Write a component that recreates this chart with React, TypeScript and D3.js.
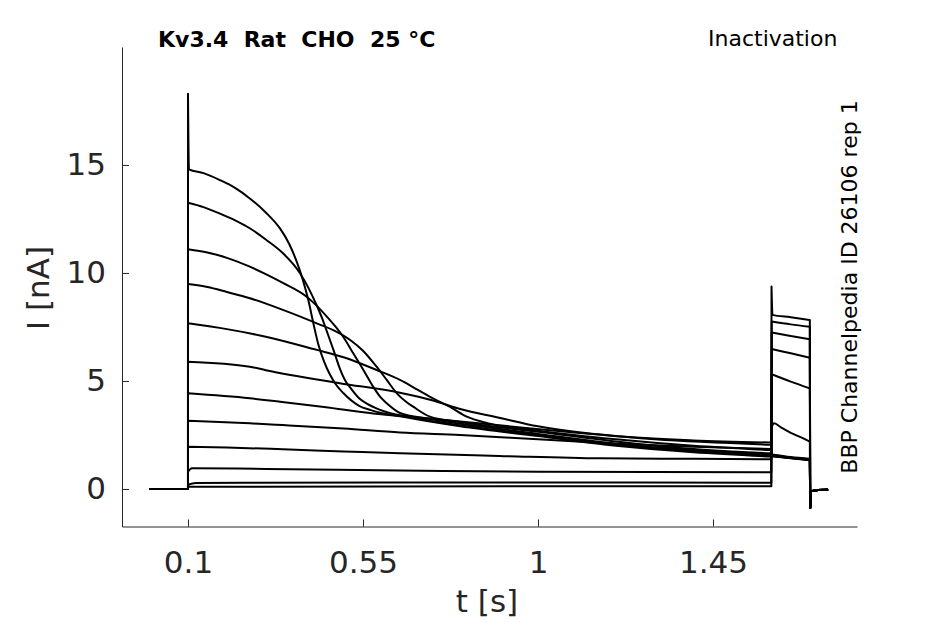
import { useRef, useEffect } from 'react';
import * as d3 from 'd3';

type Pt = [number, number];

// time [s], current [nA]
const T_TICKS = [0.1, 0.55, 1, 1.45];
const I_TICKS = [0, 5, 10, 15];
const T_DOMAIN: [number, number] = [-0.0697, 1.8203];
const I_DOMAIN: [number, number] = [-1.736, 20.46];

const BASELINE: Pt[] = [[0, 0], [0.1, 0]];
const TAIL: Pt[] = [[1.7, -0.88], [1.7015, -0.1], [1.72, -0.05], [1.746, -0.04]];

// prepulse sweeps (largest first)
const MAIN_A: Pt[] = [[0.1, 18.3], [0.1025, 14.8], [0.14, 14.62], [0.182, 14.3], [0.22, 13.95], [0.259, 13.45], [0.3, 12.8], [0.337, 12.05], [0.36, 11.35], [0.38, 10.5], [0.395, 9.7], [0.41, 8.7], [0.422, 7.7], [0.435, 6.7], [0.45, 5.9], [0.465, 5.3], [0.48, 4.85], [0.5, 4.43], [0.54, 3.85], [0.57, 3.65], [0.65, 3.35], [0.8, 2.9], [1.0, 2.45], [1.2, 2.0], [1.4, 1.7], [1.6, 1.5]];
const MAIN_B: Pt[] = [[0.1, 13.25], [0.14, 13.05], [0.182, 12.75], [0.22, 12.45], [0.259, 12.07], [0.3, 11.55], [0.345, 10.9], [0.388, 9.99], [0.41, 9.3], [0.431, 8.5], [0.445, 7.9], [0.457, 7.3], [0.474, 6.44], [0.491, 5.55], [0.505, 5.0], [0.517, 4.7], [0.54, 4.2], [0.56, 3.95], [0.594, 3.66], [0.68, 3.3], [0.8, 2.95], [1.0, 2.5], [1.2, 2.05], [1.4, 1.75], [1.6, 1.55]];
const MAIN_C: Pt[] = [[0.1, 11.1], [0.15, 10.95], [0.2, 10.7], [0.259, 10.29], [0.3, 9.95], [0.344, 9.54], [0.405, 8.9], [0.43, 8.5], [0.457, 7.98], [0.48, 7.5], [0.499, 7.05], [0.525, 6.28], [0.551, 5.51], [0.576, 4.74], [0.595, 4.25], [0.611, 3.97], [0.645, 3.52], [0.72, 3.25], [0.85, 2.9], [1.0, 2.55], [1.2, 2.1], [1.4, 1.8], [1.6, 1.6]];
const MAIN_D: Pt[] = [[0.1, 9.49], [0.15, 9.35], [0.2, 9.12], [0.259, 8.83], [0.344, 8.29], [0.431, 7.67], [0.48, 7.3], [0.517, 6.9], [0.55, 6.4], [0.585, 5.66], [0.611, 5.05], [0.637, 4.43], [0.66, 4.05], [0.679, 3.81], [0.722, 3.35], [0.8, 3.1], [1.0, 2.65], [1.2, 2.2], [1.4, 1.85], [1.6, 1.65]];
const MAIN_E: Pt[] = [[0.1, 7.67], [0.2, 7.4], [0.3, 7.05], [0.431, 6.44], [0.5, 6.1], [0.585, 5.51], [0.645, 5.05], [0.69, 4.6], [0.73, 4.2], [0.774, 3.8], [0.817, 3.35], [0.87, 3.05], [1.0, 2.7], [1.2, 2.3], [1.4, 2.0], [1.6, 1.8]];
const MAIN_F: Pt[] = [[0.1, 5.89], [0.259, 5.66], [0.3, 5.5], [0.49, 4.9], [0.645, 4.46], [0.73, 4.1], [0.8, 3.7], [0.9, 3.3], [1.0, 2.9], [1.2, 2.45], [1.4, 2.25], [1.6, 2.15]];
const MAIN_G: Pt[] = [[0.1, 4.43], [0.259, 4.2], [0.337, 4.04], [0.45, 3.8], [0.576, 3.5], [0.7, 3.3], [0.9, 2.95], [1.1, 2.6], [1.3, 2.3], [1.6, 2.05]];
const MAIN_H: Pt[] = [[0.1, 3.16], [0.259, 3.04], [0.344, 2.96], [0.5, 2.8], [0.645, 2.62], [0.8, 2.5], [1.0, 2.3], [1.2, 2.1], [1.4, 1.95], [1.6, 1.85]];
const MAIN_I: Pt[] = [[0.1, 1.96], [0.2, 1.92], [0.344, 1.84], [0.5, 1.74], [0.645, 1.65], [0.9, 1.53], [1.16, 1.42], [1.4, 1.4], [1.6, 1.38]];
const MAIN_J: Pt[] = [[0.1, 0.8], [0.11, 0.96], [0.3, 0.93], [0.645, 0.86], [1.0, 0.8], [1.6, 0.77]];
const MAIN_K: Pt[] = [[0.1, 0.2], [0.12, 0.28], [0.6, 0.3], [1.2, 0.3], [1.6, 0.29]];
const MAIN_L: Pt[] = [[0.1, 0.1], [0.6, 0.12], [1.2, 0.13], [1.6, 0.13]];

// test pulse sweeps
const TEST_A: Pt[] = [[1.601, 1.52], [1.65, 1.42], [1.699, 1.33]];
const TEST_B: Pt[] = [[1.601, 1.53], [1.65, 1.43], [1.699, 1.34]];
const TEST_C: Pt[] = [[1.601, 1.54], [1.65, 1.44], [1.699, 1.35]];
const TEST_D: Pt[] = [[1.601, 1.55], [1.65, 1.45], [1.699, 1.36]];
const TEST_E: Pt[] = [[1.601, 1.57], [1.65, 1.46], [1.699, 1.37]];
const TEST_F: Pt[] = [[1.601, 1.6], [1.65, 1.48], [1.699, 1.4]];
const TEST_G: Pt[] = [[1.601, 2.88], [1.607, 3.04], [1.625, 2.85], [1.65, 2.6], [1.675, 2.4], [1.699, 2.19]];
const TEST_H: Pt[] = [[1.601, 5.31], [1.65, 4.97], [1.699, 4.66]];
const TEST_I: Pt[] = [[1.601, 6.48], [1.65, 6.28], [1.699, 6.08]];
const TEST_J: Pt[] = [[1.601, 7.24], [1.65, 7.08], [1.699, 6.93]];
const TEST_K: Pt[] = [[1.601, 7.75], [1.65, 7.62], [1.699, 7.51]];
const TEST_L: Pt[] = [[1.6005, 9.37], [1.603, 8.06], [1.65, 7.95], [1.699, 7.82]];

const SWEEPS: [Pt[], Pt[]][] = [
  [MAIN_A, TEST_A], [MAIN_B, TEST_B], [MAIN_C, TEST_C], [MAIN_D, TEST_D],
  [MAIN_E, TEST_E], [MAIN_F, TEST_F], [MAIN_G, TEST_G], [MAIN_H, TEST_H],
  [MAIN_I, TEST_I], [MAIN_J, TEST_J], [MAIN_K, TEST_K], [MAIN_L, TEST_L],
];

const INK = '#262626';
const FONT = '"DejaVu Sans", sans-serif';

export default function App() {
  const svgRef = useRef<SVGSVGElement>(null);

  useEffect(() => {
    if (!svgRef.current) return;
    const width = 945;
    const h = 624;
    const svg = d3.select(svgRef.current);
    svg.selectAll('*').remove();

    const x = d3.scaleLinear().domain(T_DOMAIN).range([122, 857]);
    const y = d3.scaleLinear().domain(I_DOMAIN).range([526.5, 47]);

    // Axes (ticks point inward)
    svg.append('g')
      .attr('transform', `translate(0,${y(I_DOMAIN[0])})`)
      .call(d3.axisBottom(x).tickValues(T_TICKS).tickSizeInner(-7).tickSizeOuter(0).tickPadding(24)
        .tickFormat(d => String(d)))
      .call(g => g.select('.domain').attr('stroke', INK))
      .call(g => g.selectAll('.tick line').attr('stroke', INK))
      .call(g => g.selectAll('.tick text').attr('fill', INK).attr('font-size', '31px').attr('font-family', FONT));

    svg.append('g')
      .attr('transform', `translate(${x(T_DOMAIN[0])},0)`)
      .call(d3.axisLeft(y).tickValues(I_TICKS).tickSizeInner(-7).tickSizeOuter(0).tickPadding(16)
        .tickFormat(d => String(d)))
      .call(g => g.select('.domain').attr('stroke', INK))
      .call(g => g.selectAll('.tick line').attr('stroke', INK))
      .call(g => g.selectAll('.tick text').attr('fill', INK).attr('font-size', '31px').attr('font-family', FONT));

    // Sweeps
    const seg = (pts: Pt[], curve: d3.CurveFactory) =>
      d3.line<Pt>().x(d => x(d[0])).y(d => y(d[1])).curve(curve)(pts) ?? '';

    SWEEPS.forEach(([main, test]) => {
      const d = seg(BASELINE, d3.curveLinear)
        + seg(main, d3.curveMonotoneX).replace(/^M/, 'L')
        + seg(test, d3.curveMonotoneX).replace(/^M/, 'L')
        + seg(TAIL, d3.curveLinear).replace(/^M/, 'L');
      svg.append('path')
        .attr('d', d)
        .attr('fill', 'none')
        .attr('stroke', '#000')
        .attr('stroke-width', 2)
        .attr('stroke-linejoin', 'round');
    });

    // Texts
    svg.append('text')
      .attr('x', 158).attr('y', 47)
      .attr('font-family', FONT).attr('font-size', '22px').attr('font-weight', 'bold')
      .style('white-space', 'pre')
      .text('Kv3.4  Rat  CHO  25 °C');

    svg.append('text')
      .attr('x', 708).attr('y', 46)
      .attr('font-family', FONT).attr('font-size', '22px')
      .text('Inactivation');

    svg.append('text')
      .attr('transform', 'translate(857,287) rotate(-90)')
      .attr('text-anchor', 'middle')
      .attr('font-family', FONT).attr('font-size', '22px')
      .text('BBP Channelpedia ID 26106 rep 1');

    svg.append('text')
      .attr('transform', 'translate(49,288) rotate(-90)')
      .attr('text-anchor', 'middle')
      .attr('fill', INK)
      .attr('font-family', FONT).attr('font-size', '31px')
      .text('I [nA]');

    svg.append('text')
      .attr('x', 487).attr('y', 612)
      .attr('text-anchor', 'middle')
      .attr('fill', INK)
      .attr('font-family', FONT).attr('font-size', '31px')
      .text('t [s]');

    svg.attr('width', width).attr('height', h).attr('viewBox', `0 0 ${width} ${h}`);
  }, []);

  return (
    <svg
      ref={svgRef}
      width={945}
      height={624}
      style={{ position: 'absolute', left: 0, top: 0, background: '#fff' }}
    />
  );
}
